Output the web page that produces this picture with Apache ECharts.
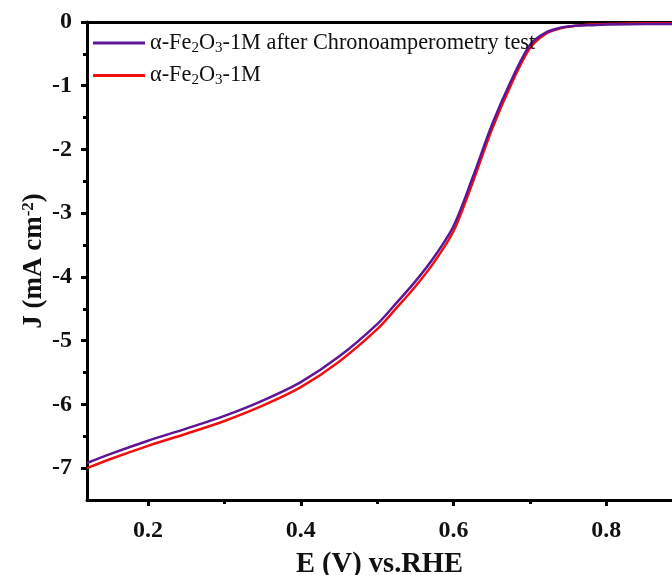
<!DOCTYPE html>
<html>
<head>
<meta charset="utf-8">
<script src="https://cdn.jsdelivr.net/npm/echarts@6/dist/echarts.min.js"></script>
<style>
  html, body { margin: 0; padding: 0; background: #fff; }
  #chart { width: 672px; height: 575px; }
</style>
</head>
<body>
<div id="chart"></div>
<script>
// potential (V vs RHE) and current density (mA cm-2)
var potentials = [0.12, 0.15, 0.2, 0.25, 0.3, 0.35, 0.4, 0.45, 0.5, 0.525, 0.55, 0.575, 0.6, 0.625, 0.65, 0.675, 0.7, 0.72, 0.74, 0.76, 0.78, 0.8, 0.85, 0.886];
var jAfter = [-6.92, -6.78, -6.57, -6.38, -6.18, -5.94, -5.65, -5.25, -4.74, -4.41, -4.07, -3.68, -3.20, -2.44, -1.62, -0.93, -0.36, -0.17, -0.09, -0.06, -0.05, -0.04, -0.03, -0.03];
var jFresh = [-7.00, -6.86, -6.65, -6.46, -6.26, -6.02, -5.73, -5.33, -4.82, -4.49, -4.15, -3.76, -3.28, -2.52, -1.69, -0.99, -0.41, -0.19, -0.10, -0.06, -0.04, -0.03, -0.02, -0.02];

var seriesNames = ['α-Fe2O3-1M after Chronoamperometry test', 'α-Fe2O3-1M'];
var seriesColors = ['#5f1696', '#f01010'];

var xLabels = [0.2, 0.4, 0.6, 0.8];
var xMinor = [0.3, 0.5, 0.7];
var yLabels = [-7, -6, -5, -4, -3, -2, -1, 0];
var yMinor = [-6.5, -5.5, -4.5, -3.5, -2.5, -1.5, -0.5];

function pairs(xs, ys) {
    var out = [];
    for (var i = 0; i < xs.length; i++) {
        out.push([xs[i], ys[i]]);
    }
    return out;
}

var serif = 'Liberation Serif';
var xRange = { min: 0.12, max: 0.886 };
var yRange = { min: -7.5, max: 0 };
var gridBox = { left: 87, right: 0, top: 22, bottom: 75, containLabel: false, outerBoundsMode: 'none' };
var black = '#000';

var chart = echarts.init(document.getElementById('chart'));

var option = {
    animation: false,
    backgroundColor: '#fff',
    // grid 0 holds the data, grid 1 (same box) only carries the minor ticks
    grid: [
        Object.assign({}, gridBox),
        Object.assign({}, gridBox)
    ],
    legend: {
        orient: 'vertical',
        left: 88,
        top: 27,
        itemWidth: 52,
        itemHeight: 3,
        itemGap: 9,
        icon: 'rect',
        data: seriesNames,
        formatter: function (name) {
            return name.replace('Fe2O3', 'Fe{s|2}O{s|3}');
        },
        textStyle: {
            fontFamily: serif,
            fontSize: 22.3,
            color: '#111',
            rich: {
                s: { fontFamily: serif, fontSize: 15, color: '#111', padding: [10, 0, 0, 0] }
            }
        }
    },
    xAxis: [
        {
            gridIndex: 0,
            type: 'value',
            position: 'bottom',
            min: xRange.min,
            max: xRange.max,
            name: 'E (V) vs.RHE',
            nameLocation: 'middle',
            nameGap: 50,
            nameMoveOverlap: false,
            nameTextStyle: { fontFamily: serif, fontWeight: 'bold', fontSize: 28.5, color: '#111' },
            axisLine: { onZero: false, lineStyle: { color: black, width: 3 } },
            axisTick: { show: true, customValues: xLabels, length: 6, lineStyle: { color: black, width: 3 } },
            axisLabel: { customValues: xLabels, fontFamily: serif, fontWeight: 'bold', fontSize: 24, color: '#111', margin: 19 },
            splitLine: { show: false }
        },
        {
            gridIndex: 0,
            type: 'value',
            position: 'top',
            min: xRange.min,
            max: xRange.max,
            axisLine: { show: true, onZero: false, lineStyle: { color: black, width: 3 } },
            axisTick: { show: false },
            axisLabel: { show: false },
            splitLine: { show: false }
        },
        {
            gridIndex: 1,
            type: 'value',
            position: 'bottom',
            min: xRange.min,
            max: xRange.max,
            axisLine: { show: false, onZero: false },
            axisTick: { show: true, customValues: xMinor, length: 4, lineStyle: { color: black, width: 3 } },
            axisLabel: { show: false },
            splitLine: { show: false }
        }
    ],
    yAxis: [
        {
            gridIndex: 0,
            type: 'value',
            position: 'left',
            min: yRange.min,
            max: yRange.max,
            name: 'J (mA cm{sup|-2})',
            nameLocation: 'middle',
            nameRotate: 90,
            nameGap: 38,
            nameMoveOverlap: false,
            nameTextStyle: {
                fontFamily: serif, fontWeight: 'bold', fontSize: 27, color: '#111',
                rich: { sup: { fontFamily: serif, fontWeight: 'bold', fontSize: 17, color: '#111', padding: [0, 0, 12, 0] } }
            },
            axisLine: { show: true, onZero: false, lineStyle: { color: black, width: 3 } },
            axisTick: { show: true, customValues: yLabels, length: 6, lineStyle: { color: black, width: 3 } },
            axisLabel: { customValues: yLabels, fontFamily: serif, fontWeight: 'bold', fontSize: 24, color: '#111', margin: 15 },
            splitLine: { show: false }
        },
        {
            gridIndex: 1,
            type: 'value',
            position: 'left',
            min: yRange.min,
            max: yRange.max,
            axisLine: { show: false, onZero: false },
            axisTick: { show: true, customValues: yMinor, length: 4, lineStyle: { color: black, width: 3 } },
            axisLabel: { show: false },
            splitLine: { show: false }
        }
    ],
    series: [
        {
            name: seriesNames[1],
            type: 'line',
            xAxisIndex: 0,
            yAxisIndex: 0,
            data: pairs(potentials, jFresh),
            color: seriesColors[1],
            showSymbol: false,
            symbol: 'none',
            smooth: 0.3,
            lineStyle: { width: 2.5 },
            z: 2
        },
        {
            name: seriesNames[0],
            type: 'line',
            xAxisIndex: 0,
            yAxisIndex: 0,
            data: pairs(potentials, jAfter),
            color: seriesColors[0],
            showSymbol: false,
            symbol: 'none',
            smooth: 0.3,
            lineStyle: { width: 2.5 },
            z: 3
        }
    ]
};

chart.setOption(option);
</script>
</body>
</html>
